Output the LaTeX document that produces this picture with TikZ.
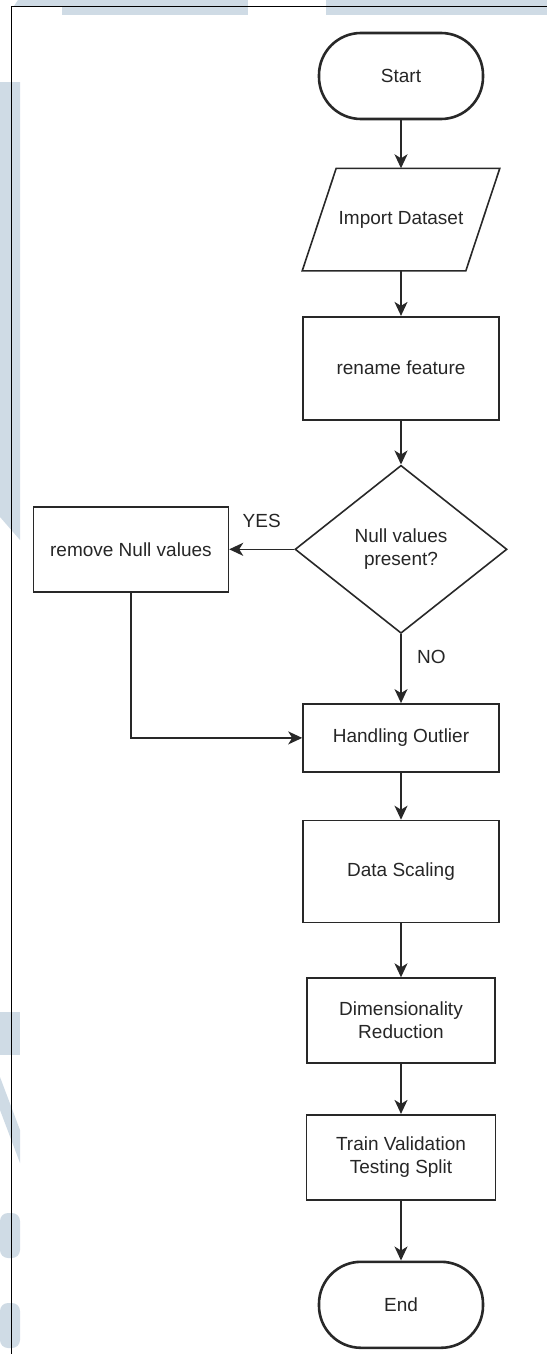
\documentclass[tikz,border=0pt]{standalone}
\usepackage{fontspec}
\setmainfont{Liberation Sans}
\usetikzlibrary{shapes,positioning,arrows.meta,calc}
\definecolor{wmblue}{RGB}{207,219,229}
\definecolor{linegray}{RGB}{40,40,40}

\begin{document}
\begin{tikzpicture}
  [x=1pt,y=1pt,
   font=\fontsize{19}{23}\selectfont,
   node distance=48pt,
   arr/.style={draw=linegray,line width=1.6pt,-{Stealth[length=14pt,width=13pt,inset=4pt]}},
   baseN/.style={draw=linegray,line width=1.6pt,align=center,text=black!85,inner sep=2pt},
   termN/.style={baseN,rectangle,rounded corners=42pt,line width=2.6pt,minimum width=164pt,minimum height=86pt},
   procN/.style={baseN,rectangle,minimum width=196pt,minimum height=85pt},
   ioN/.style={baseN,draw=none,rectangle,minimum width=162pt,minimum height=101pt},
   decN/.style={baseN,diamond,aspect=1.26,minimum width=212pt,minimum height=168pt,inner sep=0pt},
   lbl/.style={text=black!85},
  ]
 \useasboundingbox (0,0) rectangle (547,-1354);

 % watermark in the background
 \fill[wmblue] (62,0) rectangle (248,-15);
 \fill[wmblue] (326,0) rectangle (547,-15);
 \fill[wmblue] (18,0) -- (62,0) -- (62,-6) -- (14,-6) -- cycle;
 \fill[wmblue] (0,-82) -- (20,-82) -- (20,-540) -- (0,-517) -- cycle;
 \fill[wmblue] (0,-1012) rectangle (20,-1055);
 \fill[wmblue] (0,-1077) -- (0,-1110) -- (20,-1163) -- (20,-1130) -- cycle;
 \fill[wmblue, rounded corners=8pt] (0,-1213) -- (20,-1213) -- (20,-1258) -- (0,-1258) -- cycle;
 \fill[wmblue, rounded corners=8pt] (0,-1303) -- (20,-1303) -- (20,-1348) -- (0,-1348) -- cycle;

 % page frame
 \draw[line width=0.8pt] (11,-1354) -- (11,-6) -- (547,-6);

 \node[termN] (start) at (401,-76) {Start};
 \node[ioN] (imp) [below=of start] {Import Dataset};
 \node[procN,minimum height=103pt] (ren) [below=45pt of imp] {rename feature};
 \node[decN] (nul) [below=44pt of ren] {Null values\\present?};
 \node[procN,minimum width=195pt] (rem) [left=65pt of nul] {remove Null values};
 \node[procN,minimum height=68pt] (out) [below=69pt of nul] {Handling Outlier};
 \node[procN,minimum height=102pt] (scl) [below=47pt of out] {Data Scaling};
 \node[procN,minimum width=188pt] (dim) [below=54pt of scl] {Dimensionality\\Reduction};
 \node[procN,minimum width=189pt] (spl) [below=50pt of dim] {Train Validation\\Testing Split};
 \node[termN] (end) [below=60pt of spl] {End};

 % slanted outline of the input node
 \draw[draw=linegray,line width=1.6pt]
   ($(imp.north west)+(17,0)$) -- ($(imp.north east)+(17,0)$) --
   ($(imp.south east)+(-17,0)$) -- ($(imp.south west)+(-17,0)$) -- cycle;

 \draw[arr] (start) -- (imp);
 \draw[arr] (imp) -- (ren);
 \draw[arr] (ren) -- (nul);
 \draw[arr] (nul) -- node[lbl,above=17pt] {YES} (rem);
 \draw[arr] (nul) -- node[lbl,right=12pt,pos=0.33] {NO} (out);
 \draw[arr] (rem) |- (out);
 \draw[arr] (out) -- (scl);
 \draw[arr] (scl) -- (dim);
 \draw[arr] (dim) -- (spl);
 \draw[arr] (spl) -- (end);

\end{tikzpicture}
\end{document}
